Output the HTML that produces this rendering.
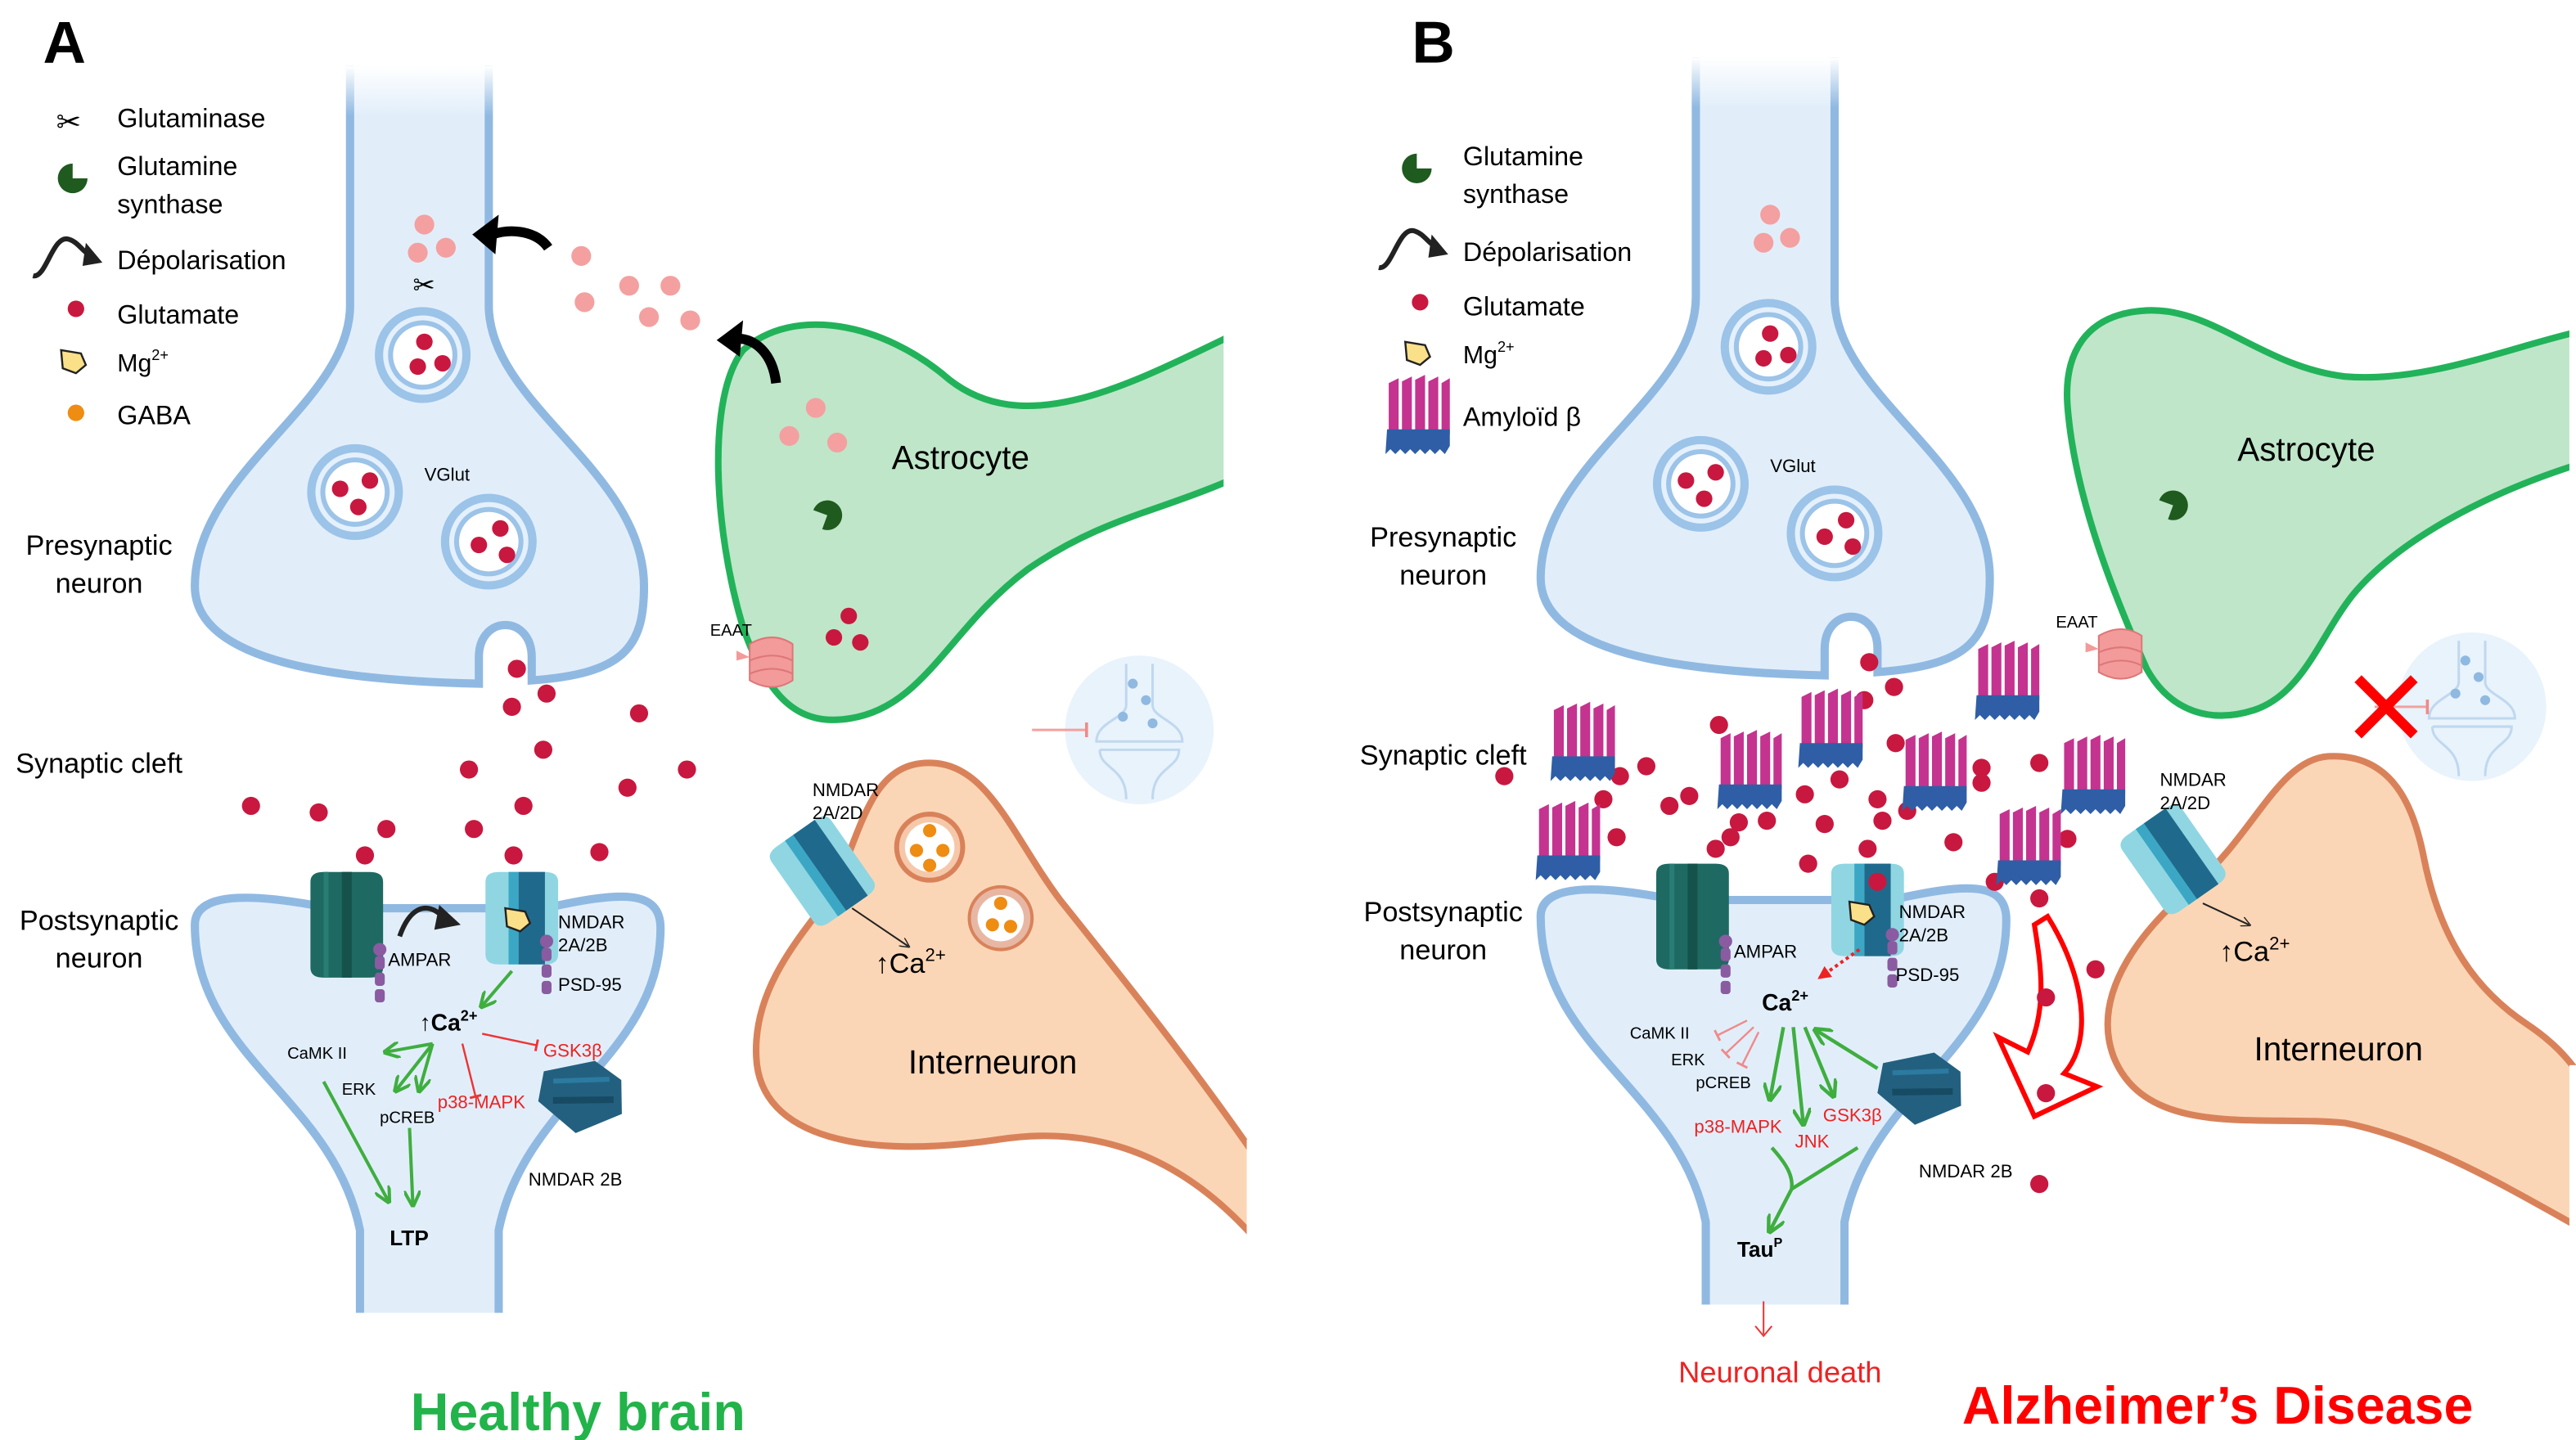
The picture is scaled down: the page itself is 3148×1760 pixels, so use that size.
<!DOCTYPE html>
<html><head><meta charset="utf-8"><style>
html,body{margin:0;padding:0;background:#fff}
svg{display:block}
text{font-family:"Liberation Sans",sans-serif}
</style></head><body>
<svg width="3148" height="1760" viewBox="0 0 1560 872" preserveAspectRatio="none" xmlns="http://www.w3.org/2000/svg">
<defs>
<g id="ves"><circle r="29" fill="#9cc3e8"/><circle r="24" fill="#e4f0fb"/><circle r="21" fill="#9cc3e8"/><circle r="18" fill="#fff"/></g>
<g id="amy">
<path d="M-18,-20 l6,-3 l0,34 l-6,0z M-10,-21 l6,-3 l0,35 l-6,0z M-2,-22 l6,-3 l0,36 l-6,0z M6,-21 l6,-3 l0,35 l-6,0z M14,-20 l5,-3 l0,34 l-5,0z" fill="#c4338f"/>
<path d="M-19,8 h38 v10 l-3,5 l-3,-3 l-3,3 l-3,-3 l-3,3 l-3,-3 l-3,3 l-3,-3 l-3,3 l-3,-3 l-3,3 l-3,-3 l-3,3z" fill="#2f5ea6"/>
</g>
<g id="ampar"><path d="M-22,-28 q0,-6 8,-6 h28 q8,0 8,6 v52 q0,6 -8,6 h-28 q-8,0 -8,-6z" fill="#1e6a62"/><rect x="-3" y="-34" width="6" height="64" fill="#15524c"/><rect x="-14" y="-34" width="3" height="64" fill="#287d74"/></g>
<g id="nmdar"><path d="M-18,-26 q0,-6 8,-6 h28 q8,0 8,6 v44 q0,6 -8,6 h-28 q-8,0 -8,-6z" fill="#8fd6e2"/><rect x="2" y="-32" width="16" height="56" fill="#1f6a8c"/><rect x="-4" y="-32" width="6" height="56" fill="#3ba7c4"/></g>
<g id="nm2b"><path d="M-22,-14 l12,-14 l30,10 l8,18 l-10,18 l-30,-4 z" fill="#23607f"/><path d="M-14,-10 l32,18" stroke="#174a63" stroke-width="4"/><path d="M-8,-20 l30,16" stroke="#2c7aa0" stroke-width="3"/></g>
<g id="psd"><circle cx="0" cy="0" r="4" fill="#8a5ba0"/><rect x="-3" y="4" width="6" height="8" rx="2" fill="#8a5ba0"/><rect x="-3" y="14" width="6" height="8" rx="2" fill="#8a5ba0"/><rect x="-3" y="24" width="6" height="8" rx="2" fill="#8a5ba0"/></g>
<g id="eaat"><path d="M-14,-10 q14,-8 26,0 v22 q-12,8 -26,0z" fill="#f39a9a" stroke="#d77" stroke-width="1"/><path d="M-14,0 q14,-6 26,0 M-14,8 q14,-6 26,0" stroke="#d77" fill="none"/><path d="M-14,-2 l-8,-4 v6z" fill="#f39a9a"/></g>
<g id="gs"><path d="M0,0 L0,-9 A9,9 0 1,0 9,0 Z" fill="#1f5a1f"/></g>
<g id="depol"><path d="M-22,12 C-14,14 -10,-14 0,-10 C6,-8 8,-2 14,0" stroke="#222" stroke-width="3" fill="none"/><path d="M10,-8 L20,4 L8,6 z" fill="#222"/></g>
<g id="mg"><path d="M-7,-6 L5,-4 L8,3 L2,8 L-6,5 z" fill="#fbe08a" stroke="#222" stroke-width="1.2"/></g>
<g id="mini"><circle r="45" fill="#e9f3fb"/><path d="M-8,-40 v25 c0,8 -18,10 -18,22 h52 c0,-12 -18,-14 -18,-22 v-25" fill="none" stroke="#c0d8ef" stroke-width="1.5"/><path d="M-24,12 h48 c0,12 -16,10 -16,30 M-24,12 c0,12 16,10 16,30" fill="none" stroke="#c0d8ef" stroke-width="1.5"/><circle cx="-4" cy="-28" r="3" fill="#8fb9e0"/><circle cx="4" cy="-18" r="3" fill="#8fb9e0"/><circle cx="-10" cy="-8" r="3" fill="#8fb9e0"/><circle cx="8" cy="-4" r="3" fill="#8fb9e0"/></g>
<marker id="ga" viewBox="0 0 10 10" refX="8" refY="5" markerWidth="5" markerHeight="5" orient="auto"><path d="M0,0 L10,5 L0,10" fill="none" stroke="#3fae3f" stroke-width="2"/></marker>
<marker id="ka" viewBox="0 0 10 10" refX="8" refY="5" markerWidth="6" markerHeight="6" orient="auto"><path d="M0,0 L10,5 L0,10" fill="none" stroke="#222" stroke-width="1.2"/></marker>
<marker id="rb" viewBox="0 0 10 10" refX="5" refY="5" markerWidth="6" markerHeight="6" orient="auto"><path d="M5,0 V10" stroke="#e33" stroke-width="2"/></marker>
<marker id="pb" viewBox="0 0 10 10" refX="5" refY="5" markerWidth="6" markerHeight="6" orient="auto"><path d="M5,0 V10" stroke="#f08a8a" stroke-width="2"/></marker>
<marker id="ra" viewBox="0 0 10 10" refX="8" refY="5" markerWidth="4" markerHeight="4" orient="auto"><path d="M0,0 L10,5 L0,10z" fill="#e22"/></marker>
<g id="pre">
<path d="M212,40 L212,185 C212,245 118,285 118,355 C118,400 200,412 290,414 L290,398 C290,372 322,372 322,398 L322,412 C378,408 390,392 390,355 C390,285 296,245 296,185 L296,40" fill="#e1eefa" stroke="#90b9e2" stroke-width="5"/>
<path d="M206,40 L302,40 L302,70 L206,70z" fill="url(#fade)"/>
</g>
<linearGradient id="fade" x1="0" y1="0" x2="0" y2="1"><stop offset="0" stop-color="#fff" stop-opacity="1"/><stop offset="1" stop-color="#fff" stop-opacity="0"/></linearGradient>
<g id="post">
<path d="M118,560 C118,538 160,542 200,550 L330,550 C375,540 400,538 400,562 C400,640 318,665 302,745 L302,802 L218,802 L218,745 C202,665 118,640 118,560 Z" fill="#e1eefa" stroke="#90b9e2" stroke-width="5"/>
<rect x="212" y="795" width="96" height="12" fill="#fff"/>
</g>
</defs>

<!-- ============ PANEL A ============ -->
<text x="26" y="38" font-size="36" font-weight="bold">A</text>
<use href="#pre"/>
<use href="#ves" x="256" y="215"/><use href="#ves" x="215" y="298"/><use href="#ves" x="296" y="328"/>
<g fill="#c8183f">
<circle cx="257" cy="207" r="5"/><circle cx="253" cy="222" r="5"/><circle cx="268" cy="220" r="5"/>
<circle cx="206" cy="296" r="5"/><circle cx="224" cy="291" r="5"/><circle cx="217" cy="307" r="5"/>
<circle cx="303" cy="320" r="5"/><circle cx="290" cy="330" r="5"/><circle cx="307" cy="336" r="5"/>
</g>
<text x="257" y="291" font-size="11">VGlut</text>

<!-- astrocyte A -->
<path d="M742,205 C680,235 620,265 575,230 C535,195 480,185 450,212 C428,240 432,320 450,380 C466,425 485,440 515,435 C560,428 575,380 622,345 C665,315 700,310 742,292" fill="#bfe6c9" stroke="#22b35a" stroke-width="4"/>
<rect x="741" y="195" width="20" height="110" fill="#fff"/>
<text x="540" y="284" font-size="20">Astrocyte</text>
<g transform="translate(501,312) rotate(200)"><use href="#gs"/></g>
<use href="#eaat" x="468" y="400"/>
<text x="430" y="385" font-size="10">EAAT</text>
<g fill="#c8183f"><circle cx="514" cy="373" r="5"/><circle cx="505" cy="386" r="5"/><circle cx="521" cy="389" r="5"/></g>
<g fill="#f4a0a0"><circle cx="257" cy="136" r="6"/><circle cx="253" cy="153" r="6"/><circle cx="270" cy="150" r="6"/>
<circle cx="352" cy="155" r="6"/><circle cx="381" cy="173" r="6"/><circle cx="406" cy="173" r="6"/><circle cx="354" cy="183" r="6"/><circle cx="393" cy="192" r="6"/><circle cx="418" cy="194" r="6"/>
<circle cx="494" cy="247" r="6"/><circle cx="478" cy="264" r="6"/><circle cx="507" cy="268" r="6"/></g>
<path d="M332,150 C325,140 310,138 298,142" stroke="#000" stroke-width="6" fill="none"/><path d="M286,142 L302,130 L300,154z" fill="#000"/>
<path d="M470,232 C468,215 458,204 444,205" stroke="#000" stroke-width="6" fill="none"/><path d="M434,206 L450,194 L448,216z" fill="#000"/>
<text x="250" y="178" font-size="16">✂</text>

<!-- legend A -->
<text x="34" y="80" font-size="18">✂</text>
<text x="71" y="77" font-size="16">Glutaminase</text>
<use href="#gs" x="44" y="108"/><text x="71" y="106" font-size="16">Glutamine</text><text x="71" y="129" font-size="16">synthase</text>
<use href="#depol" x="42" y="155"/><text x="71" y="163" font-size="16">Dépolarisation</text>
<circle cx="46" cy="187" r="5" fill="#c8183f"/><text x="71" y="196" font-size="16">Glutamate</text>
<use href="#mg" x="44" y="218"/><text x="71" y="225" font-size="15">Mg<tspan font-size="9" dy="-7">2+</tspan></text>
<circle cx="46" cy="250" r="5" fill="#ef8c12"/><text x="71" y="257" font-size="16">GABA</text>

<text x="60" y="336" font-size="17" text-anchor="middle">Presynaptic</text><text x="60" y="359" font-size="17" text-anchor="middle">neuron</text>
<text x="60" y="468" font-size="17" text-anchor="middle">Synaptic cleft</text>
<text x="60" y="563" font-size="17" text-anchor="middle">Postsynaptic</text><text x="60" y="586" font-size="17" text-anchor="middle">neuron</text>

<g fill="#c8183f">
<circle cx="313" cy="405" r="5.5"/><circle cx="331" cy="420" r="5.5"/><circle cx="310" cy="428" r="5.5"/><circle cx="387" cy="432" r="5.5"/>
<circle cx="284" cy="466" r="5.5"/><circle cx="329" cy="454" r="5.5"/><circle cx="416" cy="466" r="5.5"/><circle cx="152" cy="488" r="5.5"/>
<circle cx="193" cy="492" r="5.5"/><circle cx="234" cy="502" r="5.5"/><circle cx="380" cy="477" r="5.5"/><circle cx="287" cy="502" r="5.5"/>
<circle cx="317" cy="488" r="5.5"/><circle cx="221" cy="518" r="5.5"/><circle cx="311" cy="518" r="5.5"/><circle cx="363" cy="516" r="5.5"/>
</g>

<use href="#mini" x="690" y="442"/>
<path d="M625,442 L658,442" stroke="#f4a0a0" stroke-width="1.5" marker-end="url(#pb)"/>

<!-- interneuron A -->
<path d="M505,540 C522,500 528,464 560,462 C598,460 612,505 642,545 C682,595 722,645 760,700 L760,750 C720,705 670,680 605,690 C525,702 460,690 458,640 C456,600 482,570 505,540 Z" fill="#fbd6b6" stroke="#d9825a" stroke-width="4"/>
<rect x="755" y="690" width="20" height="70" fill="#fff"/>
<circle cx="563" cy="513" r="20" fill="#f6c8aa" stroke="#d9825a" stroke-width="3"/><circle cx="563" cy="513" r="15" fill="#fff"/>
<circle cx="606" cy="556" r="19" fill="#e8b7a4" stroke="#d9825a" stroke-width="2"/><circle cx="606" cy="556" r="14" fill="#fff"/>
<g fill="#ef8c12"><circle cx="563" cy="503" r="4"/><circle cx="555" cy="515" r="4"/><circle cx="571" cy="515" r="4"/><circle cx="563" cy="524" r="4"/>
<circle cx="606" cy="547" r="4"/><circle cx="601" cy="560" r="4"/><circle cx="612" cy="561" r="4"/></g>
<g transform="translate(497,533) rotate(-35)"><use href="#nmdar"/></g>
<text x="492" y="482" font-size="11">NMDAR</text><text x="492" y="496" font-size="11">2A/2D</text>
<path d="M516,550 L550,573" stroke="#222" stroke-width="1" marker-end="url(#ka)"/>
<text x="530" y="589" font-size="17">↑Ca<tspan font-size="11" dy="-7">2+</tspan></text>
<text x="550" y="650" font-size="20">Interneuron</text>

<!-- postsynaptic A -->
<use href="#post"/>
<use href="#ampar" x="210" y="562"/>
<use href="#nmdar" x="312" y="560"/>
<use href="#mg" x="313" y="556"/>
<use href="#psd" x="230" y="575"/><use href="#psd" x="331" y="570"/>
<g transform="translate(352,668) rotate(-30)"><use href="#nm2b"/></g>
<path d="M242,567 C248,550 258,545 268,555" stroke="#222" stroke-width="3" fill="none"/><path d="M266,548 L279,560 L263,563z" fill="#222"/>
<text x="235" y="585" font-size="11">AMPAR</text>
<text x="338" y="562" font-size="11">NMDAR</text><text x="338" y="576" font-size="11">2A/2B</text>
<text x="338" y="600" font-size="11">PSD-95</text>
<text x="254" y="624" font-size="14" font-weight="bold">↑Ca<tspan font-size="9" dy="-6">2+</tspan></text>
<text x="174" y="641" font-size="10">CaMK II</text><text x="207" y="663" font-size="10">ERK</text><text x="230" y="680" font-size="10">pCREB</text>
<text x="329" y="640" font-size="11" fill="#e22">GSK3β</text><text x="265" y="671" font-size="11" fill="#e22">p38-MAPK</text>
<text x="320" y="718" font-size="11">NMDAR 2B</text>
<text x="236" y="754" font-size="13" font-weight="bold">LTP</text>
<g stroke="#3fae3f" stroke-width="2" fill="none" marker-end="url(#ga)">
<path d="M310,588 L292,609"/><path d="M262,632 L234,637"/><path d="M262,632 L240,660"/><path d="M262,632 L254,660"/>
<path d="M196,655 L235,727"/><path d="M248,683 L250,729"/>
</g>
<g stroke="#e33" stroke-width="1.2" fill="none"><path d="M292,626 L325,633" marker-end="url(#rb)"/><path d="M280,632 L288,664" marker-end="url(#rb)"/></g>

<text x="350" y="866" font-size="32" font-weight="bold" fill="#22b34a" text-anchor="middle">Healthy  brain</text>

<!-- ============ PANEL B ============ -->
<text x="855" y="38" font-size="36" font-weight="bold">B</text>
<g transform="translate(815,-5)"><use href="#pre"/>
<use href="#ves" x="256" y="215"/><use href="#ves" x="215" y="298"/><use href="#ves" x="296" y="328"/>
<g fill="#c8183f">
<circle cx="257" cy="207" r="5"/><circle cx="253" cy="222" r="5"/><circle cx="268" cy="220" r="5"/>
<circle cx="206" cy="296" r="5"/><circle cx="224" cy="291" r="5"/><circle cx="217" cy="307" r="5"/>
<circle cx="303" cy="320" r="5"/><circle cx="290" cy="330" r="5"/><circle cx="307" cy="336" r="5"/>
</g>
<text x="257" y="291" font-size="11">VGlut</text>
</g>
<g fill="#f4a0a0"><circle cx="1072" cy="130" r="6"/><circle cx="1068" cy="147" r="6"/><circle cx="1084" cy="144" r="6"/></g>

<!-- legend B -->
<use href="#gs" x="858" y="102"/><text x="886" y="100" font-size="16">Glutamine</text><text x="886" y="123" font-size="16">synthase</text>
<use href="#depol" x="857" y="150"/><text x="886" y="158" font-size="16">Dépolarisation</text>
<circle cx="860" cy="183" r="5" fill="#c8183f"/><text x="886" y="191" font-size="16">Glutamate</text>
<use href="#mg" x="858" y="213"/><text x="886" y="220" font-size="15">Mg<tspan font-size="9" dy="-7">2+</tspan></text>
<use href="#amy" x="859" y="252"/><text x="886" y="258" font-size="16">Amyloïd β</text>

<text x="874" y="331" font-size="17" text-anchor="middle">Presynaptic</text><text x="874" y="354" font-size="17" text-anchor="middle">neuron</text>
<text x="874" y="463" font-size="17" text-anchor="middle">Synaptic cleft</text>
<text x="874" y="558" font-size="17" text-anchor="middle">Postsynaptic</text><text x="874" y="581" font-size="17" text-anchor="middle">neuron</text>

<!-- astrocyte B -->
<path d="M1565,200 C1520,210 1470,232 1420,228 C1370,222 1340,186 1300,188 C1262,190 1250,215 1252,245 C1256,300 1280,360 1300,405 C1315,432 1340,438 1365,430 C1395,420 1405,385 1425,360 C1450,330 1500,300 1565,280" fill="#bfe6c9" stroke="#22b35a" stroke-width="4"/>
<rect x="1556" y="190" width="10" height="100" fill="#fff"/>
<text x="1355" y="279" font-size="20">Astrocyte</text>
<g transform="translate(1316,306) rotate(200)"><use href="#gs"/></g>
<use href="#eaat" x="1285" y="395"/>
<text x="1245" y="380" font-size="10">EAAT</text>

<use href="#mini" x="1497" y="428"/>
<path d="M1438,428 L1470,428" stroke="#f4a0a0" stroke-width="1.5" marker-end="url(#pb)"/>
<path d="M1428,411 L1462,445 M1462,411 L1428,445" stroke="#f00" stroke-width="6"/>

<!-- interneuron B -->
<path d="M1565,745 C1520,720 1470,690 1420,680 C1370,675 1300,690 1280,640 C1265,600 1300,560 1330,535 C1365,505 1380,460 1410,458 C1450,456 1462,490 1468,520 C1478,570 1500,600 1530,620 C1545,630 1555,640 1565,655" fill="#fbd6b6" stroke="#d9825a" stroke-width="4"/>
<rect x="1556" y="645" width="10" height="110" fill="#fff"/>
<g transform="translate(1315,526) rotate(-35)"><use href="#nmdar"/></g>
<text x="1308" y="476" font-size="11">NMDAR</text><text x="1308" y="490" font-size="11">2A/2D</text>
<path d="M1334,547 L1362,560" stroke="#222" stroke-width="1" marker-end="url(#ka)"/>
<text x="1344" y="582" font-size="17">↑Ca<tspan font-size="11" dy="-7">2+</tspan></text>
<text x="1365" y="642" font-size="20">Interneuron</text>

<!-- postsynaptic B -->
<g transform="translate(815,-5)"><use href="#post"/></g>
<use href="#ampar" x="1025" y="557"/>
<use href="#nmdar" x="1127" y="555"/>
<use href="#mg" x="1127" y="552"/>
<use href="#psd" x="1045" y="570"/><use href="#psd" x="1146" y="566"/>
<g transform="translate(1163,663) rotate(-30)"><use href="#nm2b"/></g>
<text x="1050" y="580" font-size="11">AMPAR</text>
<text x="1150" y="556" font-size="11">NMDAR</text><text x="1150" y="570" font-size="11">2A/2B</text>
<text x="1148" y="594" font-size="11">PSD-95</text>
<path d="M1126,575 L1102,592" stroke="#e22" stroke-width="2" stroke-dasharray="2,2" marker-end="url(#ra)"/>
<text x="1067" y="612" font-size="14" font-weight="bold">Ca<tspan font-size="9" dy="-6">2+</tspan></text>
<text x="987" y="629" font-size="10">CaMK II</text><text x="1012" y="645" font-size="10">ERK</text><text x="1027" y="659" font-size="10">pCREB</text>
<g stroke="#f08a8a" stroke-width="1.2" fill="none"><path d="M1058,618 L1040,627" marker-end="url(#pb)"/><path d="M1062,622 L1045,638" marker-end="url(#pb)"/><path d="M1065,625 L1055,645" marker-end="url(#pb)"/></g>
<text x="1026" y="686" font-size="11" fill="#e22">p38-MAPK</text><text x="1087" y="695" font-size="11" fill="#e22">JNK</text><text x="1104" y="679" font-size="11" fill="#e22">GSK3β</text>
<g stroke="#3fae3f" stroke-width="2.2" fill="none" marker-end="url(#ga)">
<path d="M1080,622 L1072,665"/><path d="M1086,622 L1092,680"/><path d="M1093,622 L1110,663"/><path d="M1137,647 L1100,624"/>
<path d="M1125,695 L1085,720 L1072,745"/>
</g>
<path d="M1073,695 C1082,705 1086,712 1085,720" stroke="#3fae3f" stroke-width="2.2" fill="none"/>
<text x="1162" y="713" font-size="11">NMDAR 2B</text>
<text x="1052" y="761" font-size="13" font-weight="bold">Tau<tspan font-size="8" dy="-6">P</tspan></text>
<path d="M1068,788 L1068,808" stroke="#e33" stroke-width="1" fill="none"/><path d="M1063,803 L1068,809 L1073,803" stroke="#e33" fill="none"/>
<text x="1078" y="837" font-size="18" fill="#e22" text-anchor="middle">Neuronal death</text>

<!-- red curved arrow -->
<path d="M1240,555 C1262,590 1268,630 1250,650 L1270,658 L1232,676 L1210,628 L1228,637 C1240,610 1236,585 1232,560 Z" fill="none" stroke="#f00" stroke-width="3"/>

<!-- B glutamate -->
<g fill="#c8183f">
<circle cx="1132" cy="401" r="5.5"/><circle cx="1147" cy="416" r="5.5"/><circle cx="1129" cy="424" r="5.5"/><circle cx="1041" cy="439" r="5.5"/>
<circle cx="997" cy="464" r="5.5"/><circle cx="981" cy="470" r="5.5"/><circle cx="911" cy="470" r="5.5"/><circle cx="971" cy="484" r="5.5"/>
<circle cx="1011" cy="488" r="5.5"/><circle cx="1023" cy="482" r="5.5"/><circle cx="1093" cy="481" r="5.5"/><circle cx="1114" cy="472" r="5.5"/>
<circle cx="1137" cy="484" r="5.5"/><circle cx="1155" cy="491" r="5.5"/><circle cx="1148" cy="450" r="5.5"/><circle cx="1200" cy="465" r="5.5"/>
<circle cx="1200" cy="474" r="5.5"/><circle cx="1235" cy="462" r="5.5"/><circle cx="1053" cy="498" r="5.5"/><circle cx="1070" cy="497" r="5.5"/>
<circle cx="1048" cy="507" r="5.5"/><circle cx="1039" cy="514" r="5.5"/><circle cx="1105" cy="499" r="5.5"/><circle cx="1140" cy="497" r="5.5"/>
<circle cx="1183" cy="510" r="5.5"/><circle cx="1252" cy="508" r="5.5"/><circle cx="979" cy="507" r="5.5"/><circle cx="1095" cy="523" r="5.5"/>
<circle cx="1131" cy="514" r="5.5"/><circle cx="1208" cy="534" r="5.5"/><circle cx="1235" cy="544" r="5.5"/><circle cx="1269" cy="587" r="5.5"/>
<circle cx="1239" cy="604" r="5.5"/><circle cx="1239" cy="662" r="5.5"/><circle cx="1235" cy="717" r="5.5"/><circle cx="1137" cy="534" r="5.5"/>
</g>
<use href="#amy" x="959" y="450"/><use href="#amy" x="1060" y="467"/><use href="#amy" x="1109" y="442"/><use href="#amy" x="1172" y="468"/>
<use href="#amy" x="1216" y="413"/><use href="#amy" x="1268" y="470"/><use href="#amy" x="950" y="510"/><use href="#amy" x="1229" y="513"/>

<text x="1343" y="862" font-size="32" font-weight="bold" fill="#f00" text-anchor="middle">Alzheimer’s Disease</text>
</svg>
</body></html>
